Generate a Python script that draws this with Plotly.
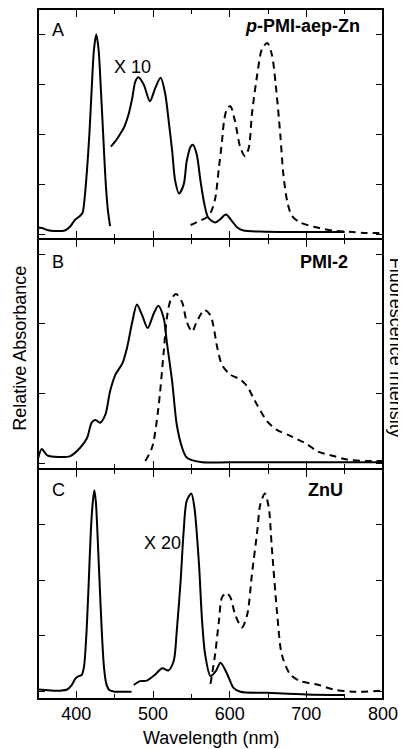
import plotly.graph_objects as go
from plotly.subplots import make_subplots

# ---------------- Panel A: p-PMI-aep-Zn ----------------
a_soret_nm = [350, 355, 362, 372, 385, 392, 398, 403, 408, 411, 414, 417, 420, 423, 426, 429, 432, 435, 438, 441, 444]
a_soret_abs = [0.13, 0.12, 0.08, 0.06, 0.07, 0.15, 0.28, 0.34, 0.42, 0.75, 1.3, 2.0, 2.9, 3.7, 4.0, 3.7, 2.9, 2.0, 1.1, 0.5, 0.16]

a_q_nm = [445, 451, 457, 462, 468, 473, 477, 481, 488, 496, 503, 510, 516, 520, 525, 529, 534, 540, 544, 549, 552, 557, 562, 567, 572, 581, 588, 595, 603, 610, 618, 640, 680, 720, 750]
a_q_abs = [1.75, 1.86, 2.0, 2.13, 2.39, 2.73, 3.06, 3.14, 2.99, 2.66, 2.93, 3.13, 2.8, 2.33, 1.66, 1.06, 0.81, 0.99, 1.46, 1.75, 1.79, 1.6, 1.06, 0.6, 0.33, 0.23, 0.3, 0.39, 0.26, 0.13, 0.07, 0.05, 0.04, 0.04, 0.04]

a_em_nm = [549, 556, 562, 570, 575, 581, 586, 590, 593, 597, 601, 607, 614, 620, 625, 629, 636, 642, 649, 655, 660, 666, 670, 675, 681, 692, 714, 735, 760, 779, 800]
a_em_int = [0.18, 0.23, 0.27, 0.33, 0.42, 0.7, 1.33, 1.86, 2.3, 2.53, 2.56, 2.26, 1.73, 1.56, 1.73, 2.4, 3.2, 3.7, 3.83, 3.6, 3.0, 2.0, 1.2, 0.66, 0.37, 0.23, 0.13, 0.07, 0.04, 0.02, 0.02]

# ---------------- Panel B: PMI-2 ----------------
b_abs_nm = [350, 355, 362, 377, 392, 405, 414, 420, 425, 431, 438, 444, 451, 460, 466, 473, 479, 486, 493, 501, 507, 514, 518, 525, 531, 538, 544, 562, 600, 700, 800]
b_abs = [0.06, 0.2, 0.11, 0.086, 0.1, 0.22, 0.36, 0.58, 0.62, 0.58, 0.7, 1.03, 1.27, 1.43, 1.65, 2.03, 2.28, 2.12, 1.94, 2.15, 2.26, 2.08, 1.74, 1.17, 0.55, 0.22, 0.08, 0.014, 0.01, 0.01, 0.01]

b_em_nm = [490, 499, 507, 514, 518, 523, 530, 538, 544, 551, 557, 567, 575, 584, 590, 601, 614, 623, 633, 649, 661, 679, 701, 714, 736, 753, 779, 800]
b_em_int = [0.03, 0.23, 0.79, 1.6, 2.08, 2.34, 2.43, 2.31, 2.03, 1.89, 2.03, 2.2, 2.12, 1.65, 1.41, 1.27, 1.2, 1.1, 0.89, 0.6, 0.48, 0.39, 0.27, 0.17, 0.1, 0.05, 0.03, 0.03]

# ---------------- Panel C: ZnU ----------------
c_soret_nm = [350, 360, 370, 380, 388, 394, 399, 403, 407, 410, 413, 416, 419, 421.5, 423.5, 425.5, 428, 430.5, 433.5, 436, 439, 443, 450, 460, 472]
c_soret_abs = [0.04, 0.03, 0.02, 0.02, 0.04, 0.12, 0.24, 0.28, 0.3, 0.45, 1.0, 1.9, 2.9, 3.4, 3.61, 3.4, 2.7, 1.9, 1.0, 0.45, 0.15, 0.03, 0.0, 0.0, 0.0]

c_q_nm = [475, 483, 492, 503, 512, 520, 527, 531, 536, 540, 544, 550, 554, 560, 564, 568, 575, 582, 588, 597, 605, 614, 649, 700, 750]
c_q_abs = [0.12, 0.19, 0.2, 0.31, 0.42, 0.38, 0.55, 1.09, 1.98, 2.88, 3.42, 3.55, 3.3, 2.28, 1.27, 0.67, 0.28, 0.37, 0.52, 0.31, 0.07, 0.0, -0.02, -0.05, -0.06]

c_em_nm = [575, 581, 586, 590, 596, 601, 607, 616, 623, 629, 636, 640, 646, 651, 655, 662, 668, 679, 692, 714, 736, 760, 800]
c_em_int = [0.14, 0.67, 1.27, 1.69, 1.77, 1.69, 1.39, 1.15, 1.39, 2.1, 2.88, 3.36, 3.55, 3.3, 2.58, 1.39, 0.67, 0.31, 0.19, 0.13, 0.04, 0.0, 0.02]

x_major = [400, 500, 600, 700, 800]
x_minor = [450, 550, 650, 750]
x_labels = ["400", "500", "600", "700", "800"]

FONT = "Liberation Sans, Arial, sans-serif"

fig = make_subplots(rows=3, cols=1, shared_xaxes=True, vertical_spacing=0)

solid = dict(color="black", width=2, shape="spline", smoothing=0.8)
dashed = dict(color="black", width=2, shape="spline", smoothing=0.8, dash="7px,5px")

fig.add_trace(go.Scatter(x=a_soret_nm, y=a_soret_abs, mode="lines", line=solid), row=1, col=1)
fig.add_trace(go.Scatter(x=a_q_nm, y=a_q_abs, mode="lines", line=solid), row=1, col=1)
fig.add_trace(go.Scatter(x=a_em_nm, y=a_em_int, mode="lines", line=dashed), row=1, col=1)

fig.add_trace(go.Scatter(x=b_abs_nm, y=b_abs, mode="lines", line=solid), row=2, col=1)
fig.add_trace(go.Scatter(x=b_em_nm, y=b_em_int, mode="lines", line=dashed), row=2, col=1)

fig.add_trace(go.Scatter(x=c_soret_nm, y=c_soret_abs, mode="lines", line=solid), row=3, col=1)
fig.add_trace(go.Scatter(x=c_q_nm, y=c_q_abs, mode="lines", line=solid), row=3, col=1)
fig.add_trace(go.Scatter(x=c_em_nm, y=c_em_int, mode="lines", line=dashed), row=3, col=1)

xax = dict(range=[350, 800], showline=True, linecolor="black", linewidth=1, mirror="ticks",
           ticks="inside", ticklen=8, tickwidth=1.3, tickcolor="black",
           tickvals=x_major, ticktext=x_labels, ticklabelstandoff=-2,
           minor=dict(tickvals=x_minor, ticks="inside", ticklen=5, tickwidth=1.3, tickcolor="black"),
           showgrid=False, zeroline=False, automargin=False,
           tickfont=dict(family=FONT, size=18, color="black"))
for r in (1, 2, 3):
    fig.update_xaxes(**xax, row=r, col=1)

yranges = {1: ([-0.1, 4.51], [0, 1, 2, 3, 4]),
           2: ([-0.086, 3.22], [0, 1, 2, 3]),
           3: ([-0.13, 3.99], [0, 1, 2, 3])}
for r, (rng, tv) in yranges.items():
    fig.update_yaxes(range=rng, tickvals=tv, showticklabels=False, showline=True,
                     linecolor="black", linewidth=1, mirror="ticks", ticks="inside",
                     ticklen=7, tickwidth=1.3, tickcolor="black", showgrid=False,
                     zeroline=False, automargin=False, row=r, col=1)

def ann(text, x, y, xanchor="left", size=18, bold=False, angle=0):
    t = "<b>" + text + "</b>" if bold else text
    return dict(text=t, x=x, y=y, xref="paper", yref="paper", xanchor=xanchor,
                yanchor="middle", showarrow=False, textangle=angle,
                font=dict(family=FONT, size=size, color="black"))

annotations = [
    ann("A", 0.034, 0.969),
    ann("<i>p</i>-PMI-aep-Zn", 0.94, 0.975, xanchor="right", bold=True),
    ann("X 10", 0.275, 0.916, xanchor="center"),
    ann("B", 0.034, 0.634),
    ann("PMI-2", 0.905, 0.634, xanchor="right", bold=True),
    ann("C", 0.034, 0.303),
    ann("ZnU", 0.891, 0.303, xanchor="right", bold=True),
    ann("X 20", 0.362, 0.226, xanchor="center"),
    ann("Relative Absorbance", -0.0522, 0.509, xanchor="center", angle=-90),
    ann("Fluorescence Intensity", 1.0377, 0.509, xanchor="center", angle=90),
    ann("Wavelength (nm)", 0.5, -0.0565, xanchor="center"),
]

frame = [dict(type="rect", xref="paper", yref="paper", x0=0, x1=1, y0=0, y1=1,
              line=dict(color="black", width=2), layer="above")]

# page body adds an 8px margin; the figure is sized to fill the remaining window
fig.update_layout(width=398, height=741, margin=dict(l=30, r=23, t=1, b=50, pad=0),
                  plot_bgcolor="white", paper_bgcolor="white", showlegend=False,
                  annotations=annotations, shapes=frame,
                  font=dict(family=FONT, color="black"))

fig.write_html("out.html")
